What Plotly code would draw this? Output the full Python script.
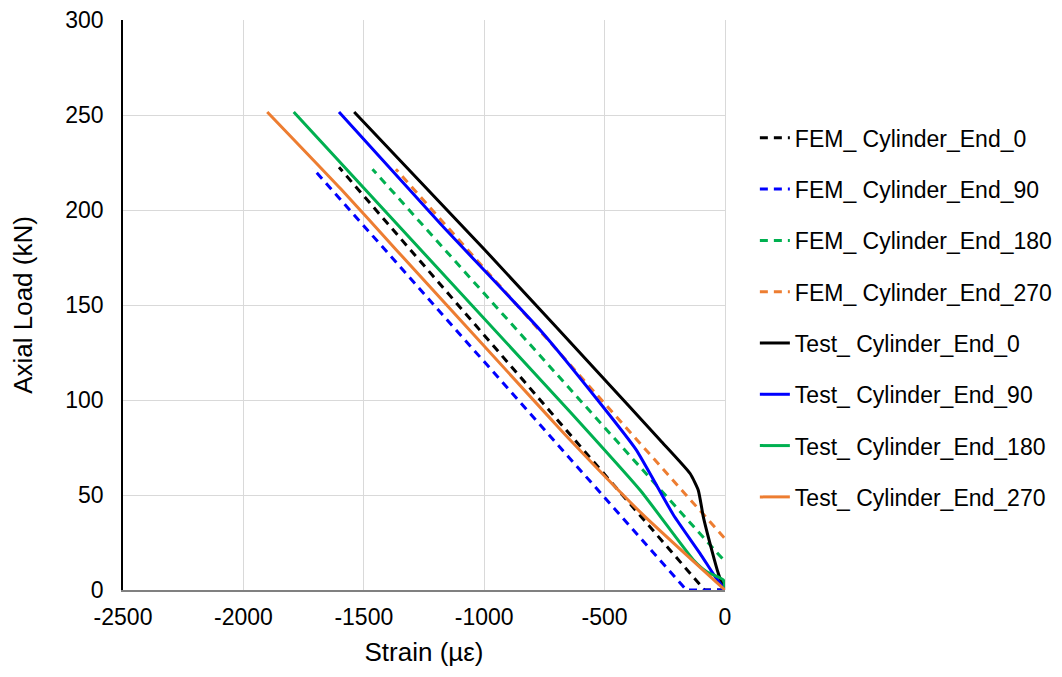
import plotly.graph_objects as go

# FEM results (dashed, straight lines)
fem_0_strain = [0, -85, -1603]
fem_0_load = [0, 0, 222.5]
fem_90_strain = [0, -160, -1712]
fem_90_load = [0, 0, 222]
fem_180_strain = [105, 0, -1464]
fem_180_load = [0, 15, 221.5]
fem_270_strain = [190, 0, -1367]
fem_270_load = [0, 27, 221.5]

# Test results (solid)
test_0_strain = [0, -7, -28, -55, -90, -111, -145, -269, -400, -1001, -1540]
test_0_load = [0, 1.7, 8.8, 21, 38.5, 52.5, 61.3, 78.8, 97, 179.5, 251.6]
test_90_strain = [0, -41, -104, -214, -370, -529, -766, -1181, -1603]
test_90_load = [0, 7, 19.3, 39.5, 74, 100, 136.6, 192.6, 251.6]
test_180_strain = [0, -7, -76, -131, -352, -642, -1791]
test_180_load = [0, 5.3, 9.6, 15.8, 52.5, 93.6, 251.6]
test_270_strain = [0, -352, -642, -725, -1365, -1595, -1901]
test_270_load = [0, 41, 78.8, 90.2, 179, 211, 251.6]

x_ticks = [-2500, -2000, -1500, -1000, -500, 0]
x_tick_text = ["-2500", "-2000", "-1500", "-1000", "-500", "0"]
y_ticks = [0, 50, 100, 150, 200, 250, 300]

series = [
    ("FEM_ Cylinder_End_0", fem_0_strain, fem_0_load, "#000000", "8px,6px"),
    ("FEM_ Cylinder_End_90", fem_90_strain, fem_90_load, "#0000FF", "8px,6px"),
    ("FEM_ Cylinder_End_180", fem_180_strain, fem_180_load, "#00B050", "8px,6px"),
    ("FEM_ Cylinder_End_270", fem_270_strain, fem_270_load, "#ED7D31", "8px,6px"),
    ("Test_ Cylinder_End_0", test_0_strain, test_0_load, "#000000", "solid"),
    ("Test_ Cylinder_End_90", test_90_strain, test_90_load, "#0000FF", "solid"),
    ("Test_ Cylinder_End_180", test_180_strain, test_180_load, "#00B050", "solid"),
    ("Test_ Cylinder_End_270", test_270_strain, test_270_load, "#ED7D31", "solid"),
]

fig = go.Figure()
for i, (name, xs, ys, color, dash) in enumerate(series):
    shape = "linear" if dash != "solid" else "spline"
    fig.add_trace(go.Scatter(x=xs, y=ys, mode="lines", name=name,
                             legendgroup=str(i),
                             line=dict(color=color, width=3, dash=dash,
                                       shape=shape, smoothing=0.5)))

font = "Liberation Sans, Arial, sans-serif"
fig.update_layout(
    width=1062, height=677,
    margin=dict(l=115, r=345, t=12, b=95),
    paper_bgcolor="white", plot_bgcolor="white",
    font=dict(family=font, size=23, color="#000000"),
    showlegend=True,
    legend=dict(x=1.0496, y=0.831, xanchor="left", yanchor="top",
                font=dict(size=23), tracegroupgap=18.4,
                bgcolor="rgba(0,0,0,0)"),
    xaxis=dict(range=[-2500, 0], tickvals=x_ticks, ticktext=x_tick_text,
               title=dict(text="Strain (µε)", font=dict(size=26), standoff=14),
               showgrid=True, gridcolor="#D9D9D9", gridwidth=1,
               zeroline=True, zerolinecolor="#D9D9D9", zerolinewidth=1,
               showline=True, linecolor="#808080", linewidth=2,
               ticks="", ticklabelstandoff=5, tickfont=dict(size=23),
               ticklabeloverflow="allow", automargin=False),
    yaxis=dict(range=[0, 300.01], tickvals=y_ticks,
               title=dict(text="Axial Load (kN)", font=dict(size=26), standoff=26),
               showgrid=True, gridcolor="#D9D9D9", gridwidth=1,
               zeroline=False,
               showline=True, linecolor="#000000", linewidth=1.5,
               ticks="", ticklabelstandoff=13, tickfont=dict(size=23),
               ticklabeloverflow="allow", automargin=False),
)

fig.write_html("out.html")
